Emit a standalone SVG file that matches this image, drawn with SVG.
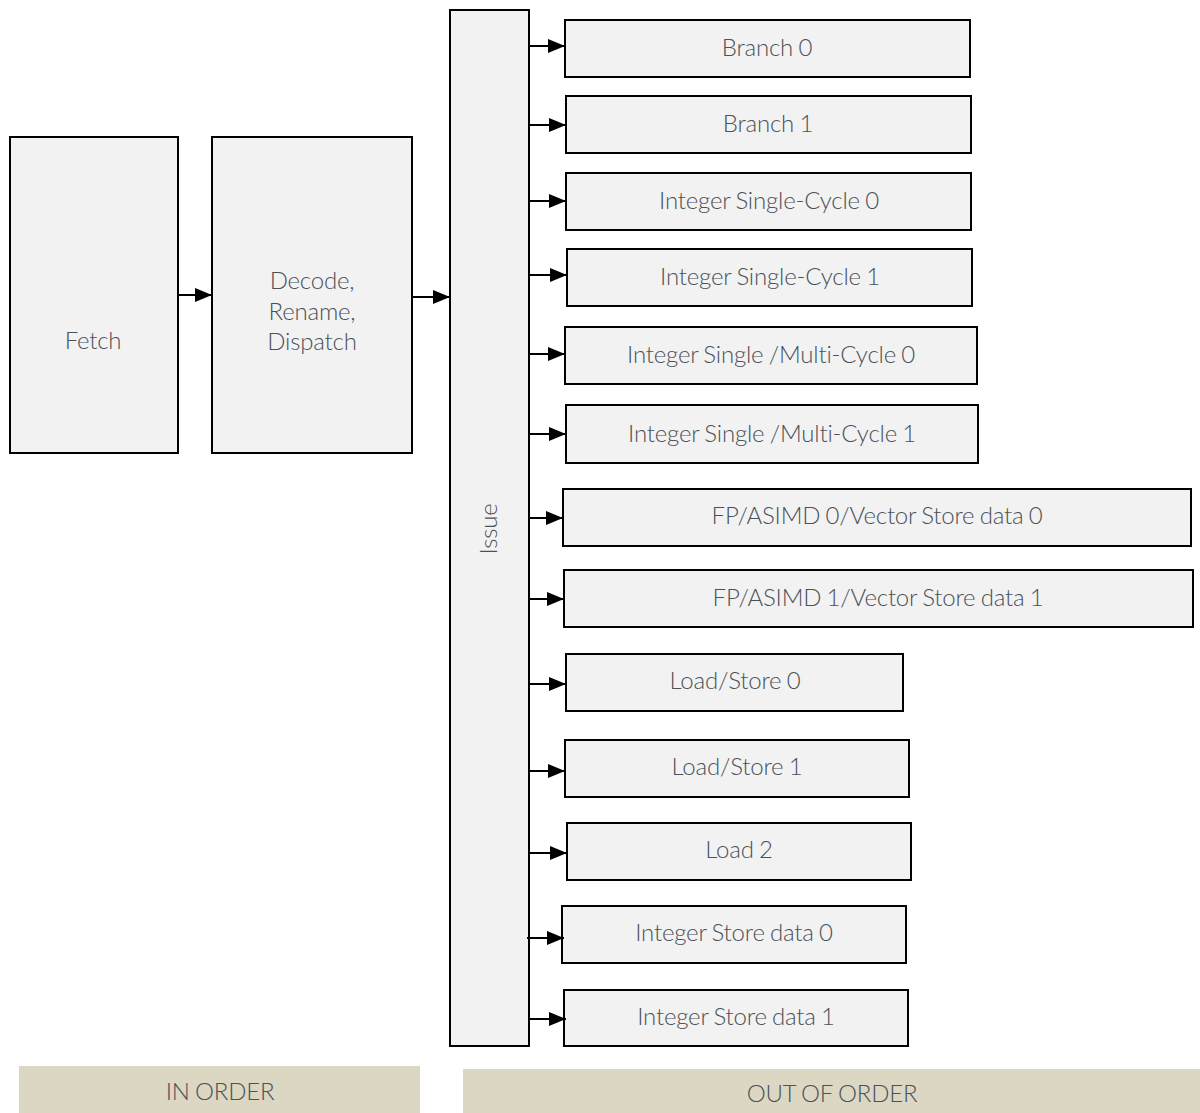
<svg xmlns="http://www.w3.org/2000/svg" width="1200" height="1113" viewBox="0 0 1200 1113">
<style>
.box{fill:#f2f2f2;stroke:#000;stroke-width:2}
.t{font-family:Lato,"Open Sans",sans-serif;font-weight:300;font-size:24px;letter-spacing:-0.2px;word-spacing:-1px;fill:#4a5158;text-anchor:middle;dominant-baseline:central}
.band{fill:#dbd7c2}
.c{stroke:#000;stroke-width:2;fill:none;marker-end:url(#a)}
</style>
<defs>
<marker id="a" markerWidth="17" markerHeight="14" refX="17" refY="7" orient="auto" markerUnits="userSpaceOnUse">
<path d="M0,0 L17,7 L0,14 Z" fill="#000"/>
</marker>
</defs>
<rect width="1200" height="1113" fill="#fff"/>
<g id="fetch"><rect class="box" x="10" y="137" width="168" height="316"/><text class="t" x="93" y="339">Fetch</text></g>
<g id="decode"><rect class="box" x="212" y="137" width="200" height="316"/><text class="t" x="312" y="279">Decode,</text><text class="t" x="312" y="310">Rename,</text><text class="t" x="312" y="340">Dispatch</text></g>
<g id="issue"><rect class="box" x="450" y="10" width="79" height="1036"/><text class="t" x="487" y="529" transform="rotate(-90 487 529)">Issue</text></g>
<g id="branch0"><rect class="box" x="565" y="20" width="405" height="57"/><text class="t" x="767" y="46">Branch 0</text></g>
<g id="branch1"><rect class="box" x="566" y="96" width="405" height="57"/><text class="t" x="768" y="122">Branch 1</text></g>
<g id="isc0"><rect class="box" x="566" y="173" width="405" height="57"/><text class="t" x="769" y="199">Integer Single-Cycle 0</text></g>
<g id="isc1"><rect class="box" x="567" y="249" width="405" height="57"/><text class="t" x="770" y="275">Integer Single-Cycle 1</text></g>
<g id="ismc0"><rect class="box" x="565" y="327" width="412" height="57"/><text class="t" x="771" y="353">Integer Single /Multi-Cycle 0</text></g>
<g id="ismc1"><rect class="box" x="566" y="405" width="412" height="58"/><text class="t" x="772" y="432">Integer Single /Multi-Cycle 1</text></g>
<g id="fp0"><rect class="box" x="563" y="489" width="628" height="57"/><text class="t" x="877" y="514">FP/ASIMD 0/Vector Store data 0</text></g>
<g id="fp1"><rect class="box" x="564" y="570" width="629" height="57"/><text class="t" x="878" y="596">FP/ASIMD 1/Vector Store data 1</text></g>
<g id="ls0"><rect class="box" x="566" y="654" width="337" height="57"/><text class="t" x="735" y="679">Load/Store 0</text></g>
<g id="ls1"><rect class="box" x="565" y="740" width="344" height="57"/><text class="t" x="737" y="765">Load/Store 1</text></g>
<g id="load2"><rect class="box" x="567" y="823" width="344" height="57"/><text class="t" x="739" y="848">Load 2</text></g>
<g id="isd0"><rect class="box" x="562" y="906" width="344" height="57"/><text class="t" x="734" y="931">Integer Store data 0</text></g>
<g id="isd1"><rect class="box" x="564" y="990" width="344" height="56"/><text class="t" x="736" y="1015">Integer Store data 1</text></g>
<g id="inorder"><rect class="band" x="19" y="1066" width="401" height="47"/><text class="t" x="220" y="1090">IN ORDER</text></g>
<g id="outoforder"><rect class="band" x="463" y="1069" width="737" height="44"/><text class="t" x="832" y="1092">OUT OF ORDER</text></g>
<g id="connectors">
<line class="c" x1="178" y1="295" x2="212" y2="295"/>
<line class="c" x1="412" y1="297" x2="450" y2="297"/>
<line class="c" x1="529" y1="46" x2="565" y2="46"/>
<line class="c" x1="529" y1="125" x2="566" y2="125"/>
<line class="c" x1="529" y1="201" x2="566" y2="201"/>
<line class="c" x1="529" y1="275" x2="567" y2="275"/>
<line class="c" x1="529" y1="354" x2="565" y2="354"/>
<line class="c" x1="529" y1="434" x2="566" y2="434"/>
<line class="c" x1="529" y1="518" x2="563" y2="518"/>
<line class="c" x1="529" y1="599" x2="564" y2="599"/>
<line class="c" x1="529" y1="684" x2="566" y2="684"/>
<line class="c" x1="529" y1="771" x2="565" y2="771"/>
<line class="c" x1="529" y1="853" x2="567" y2="853"/>
<line class="c" x1="527" y1="938" x2="564" y2="938"/>
<line class="c" x1="529" y1="1019" x2="566" y2="1019"/>
</g>
</svg>
